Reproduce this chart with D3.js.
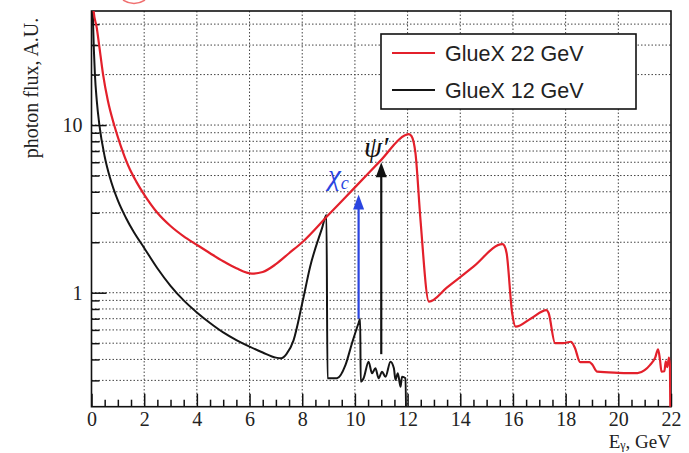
<!DOCTYPE html>
<html><head><meta charset="utf-8">
<script src="https://cdn.jsdelivr.net/npm/d3@7"></script>
<style>
html,body{margin:0;padding:0;background:#fff;}
svg{display:block;}
</style></head>
<body><svg id="c" width="689" height="453"></svg>
<script>
// ---- data ----
const seriesNames = ["GlueX 22 GeV", "GlueX 12 GeV"];
const xMajorTicks = [0,2,4,6,8,10,12,14,16,18,20,22];
const yMajorTicks = [1,10];
const yMinorTicks = [0.3,0.4,0.5,0.6,0.7,0.8,0.9,2,3,4,5,6,7,8,9,20,30,40];

const e22 = [0.03,0.08,0.2,0.29,0.44,0.62,0.86,1.1,1.4,1.7,2.0,2.5,3.0,3.5,4.0,4.5,5.0,5.5,6.09,6.5,7.0,7.5,8.0,9.0,10.0,11.0,11.9,12.05,12.15,12.3,12.49,12.81,13.5,14.5,15.6,15.68,15.76,15.97,16.1,16.7,17.27,17.35,17.6,17.9,18.2,18.35,18.55,18.9,19.0,19.2,20.0,20.73,21.0,21.2,21.4,21.51,21.58,21.64,21.75,21.8,21.86,21.92,21.96,21.99];
const f22 = [80,48,38,30,20,14,10,7.6,5.7,4.6,3.85,3.0,2.5,2.17,1.93,1.72,1.54,1.4,1.30,1.33,1.48,1.72,2.0,2.92,4.25,6.2,8.7,8.84,8.6,6.77,2.71,0.884,1.075,1.43,1.95,1.9,1.72,0.754,0.627,0.705,0.788,0.76,0.5,0.5,0.51,0.47,0.385,0.385,0.375,0.338,0.333,0.331,0.345,0.37,0.41,0.46,0.40,0.338,0.34,0.39,0.36,0.41,0.37,0.1];

const e12 = [0.02,0.06,0.13,0.2,0.3,0.5,0.7,1.0,1.3,1.6,2.0,2.5,3.0,3.5,4.0,4.5,5.0,5.5,6.0,6.5,7.0,7.2,7.4,7.67,8.0,8.3,8.75,8.92,8.96,9.32,9.64,9.89,10.14,10.2,10.22,10.33,10.52,10.65,10.78,10.9,11.03,11.16,11.35,11.48,11.54,11.63,11.73,11.79,11.92,11.96];
const f12 = [80,40,20,14,10,6.5,4.86,3.55,2.81,2.31,1.85,1.4,1.1,0.9,0.763,0.66,0.58,0.522,0.477,0.44,0.41,0.406,0.43,0.52,0.865,1.43,2.42,2.91,0.309,0.309,0.37,0.50,0.66,0.70,0.295,0.309,0.388,0.331,0.354,0.309,0.338,0.315,0.388,0.354,0.302,0.331,0.275,0.315,0.309,0.1];

// annotation arrows: [energy, flux at bottom, flux at tip]
const chiArrow = [10.14, 0.70, 3.85];
const psiArrow = [11.0, 0.43, 6.0];

// ---- layout ----
const svg = d3.select("#c");
const L = 91.5, R = 671, T = 11, B = 406.7;
const x = d3.scaleLinear().domain([0,22]).range([L,R]);
const y = d3.scaleLog().domain([0.209,47.9]).range([B,T]);
const serif = "'Liberation Serif','DejaVu Serif',serif";
const sans = "'Liberation Sans',Arial,sans-serif";

svg.append("defs").append("clipPath").attr("id","clip")
  .append("rect").attr("x",L).attr("y",T).attr("width",R-L).attr("height",B-T);

// grid
const grid = svg.append("g").attr("stroke","#444").attr("stroke-width",1).attr("stroke-dasharray","1.5,2");
grid.selectAll(".gx").data(xMajorTicks.filter(v=>v>0 && v<22)).enter().append("line")
  .attr("x1",d=>x(d)).attr("x2",d=>x(d)).attr("y1",T).attr("y2",B);
grid.selectAll(".gy").data(yMajorTicks.concat(yMinorTicks)).enter().append("line")
  .attr("x1",L).attr("x2",R).attr("y1",d=>y(d)).attr("y2",d=>y(d));

// axes
svg.append("g").attr("transform",`translate(0,${B})`)
  .call(d3.axisBottom(x).tickValues(xMajorTicks).tickSize(-13).tickPadding(5).tickFormat(d3.format("d")));
const xMinor = d3.range(0,22.01,0.5).filter(v=>v%2!==0);
svg.append("g").attr("transform",`translate(0,${B})`)
  .call(d3.axisBottom(x).tickValues(xMinor).tickSize(-7).tickFormat(""));
svg.append("g").attr("transform",`translate(${L},0)`)
  .call(d3.axisLeft(y).tickValues(yMajorTicks).tickSize(-15).tickPadding(9).tickFormat(d3.format("d")));
svg.append("g").attr("transform",`translate(${L},0)`)
  .call(d3.axisLeft(y).tickValues(yMinorTicks).tickSize(-8).tickFormat(""));
svg.selectAll(".domain").remove();
svg.selectAll(".tick line").attr("stroke","#111").attr("stroke-width",1.5);
svg.selectAll(".tick text").attr("font-family",serif).attr("font-size",20).attr("fill","#222");

// frame
svg.append("rect").attr("x",L).attr("y",T).attr("width",R-L).attr("height",B-T)
  .attr("fill","none").attr("stroke","#111").attr("stroke-width",1.6);

// curves
const line = d3.line().x(d=>x(d[0])).y(d=>y(d[1])).curve(d3.curveMonotoneX);
const gC = svg.append("g").attr("clip-path","url(#clip)");
gC.append("path").datum(d3.zip(e12,f12)).attr("d",line)
  .attr("fill","none").attr("stroke","#151515").attr("stroke-width",2).attr("stroke-linejoin","round");
gC.append("path").datum(d3.zip(e22,f22)).attr("d",line)
  .attr("fill","none").attr("stroke","#e3202b").attr("stroke-width",2.2).attr("stroke-linejoin","round");

// arrows
function arrow(a,color){
  const xx = x(a[0]), y0 = y(a[1]), y1 = y(a[2]);
  svg.append("line").attr("x1",xx).attr("x2",xx).attr("y1",y0).attr("y2",y1+12)
    .attr("stroke",color).attr("stroke-width",2.2);
  svg.append("path").attr("d",`M${xx},${y1} L${xx-5.5},${y1+15} L${xx+5.5},${y1+15} Z`).attr("fill",color);
}
arrow(chiArrow,"#2a45e0");
arrow(psiArrow,"#111");

// annotation labels
svg.append("text").attr("x",364).attr("y",157).attr("font-family",serif).attr("font-style","italic")
  .attr("font-size",29).attr("fill","#111").text("ψ′");
const chi = svg.append("text").attr("x",328).attr("y",185).attr("font-family",serif).attr("font-style","italic")
  .attr("font-size",29).attr("fill","#2a45e0");
chi.append("tspan").text("χ");
chi.append("tspan").attr("font-size",18).attr("dy",4).text("c");

// legend
const lg = svg.append("g");
lg.append("rect").attr("x",381).attr("y",34).attr("width",255).attr("height",75)
  .attr("fill","#fff").attr("stroke","#111").attr("stroke-width",1.6);
const lcol = ["#e3202b","#151515"];
seriesNames.forEach((n,i)=>{
  const yy = 53 + i*37;
  lg.append("line").attr("x1",392).attr("x2",435).attr("y1",yy).attr("y2",yy)
    .attr("stroke",lcol[i]).attr("stroke-width",2);
  lg.append("text").attr("x",445).attr("y",yy+7.5).attr("font-family",sans).attr("font-size",21.5)
    .attr("fill","#222").text(n);
});

// axis titles
svg.append("text").attr("transform","translate(38,88) rotate(-90)").attr("text-anchor","middle")
  .attr("font-family",serif).attr("font-size",20).attr("fill","#222").text("photon flux, A.U.");
const xt = svg.append("text").attr("x",671).attr("y",447.5).attr("text-anchor","end")
  .attr("font-family",serif).attr("font-size",19).attr("fill","#222");
xt.append("tspan").text("E");
xt.append("tspan").attr("font-size",12).attr("dy",1.5).text("γ");
xt.append("tspan").attr("dy",-1.5).text(", GeV");

// clipped red mark above frame
svg.append("path").attr("d","M123,0 Q134,7 145,0").attr("fill","none").attr("stroke","#f07070").attr("stroke-width",1.5);
</script></body></html>
